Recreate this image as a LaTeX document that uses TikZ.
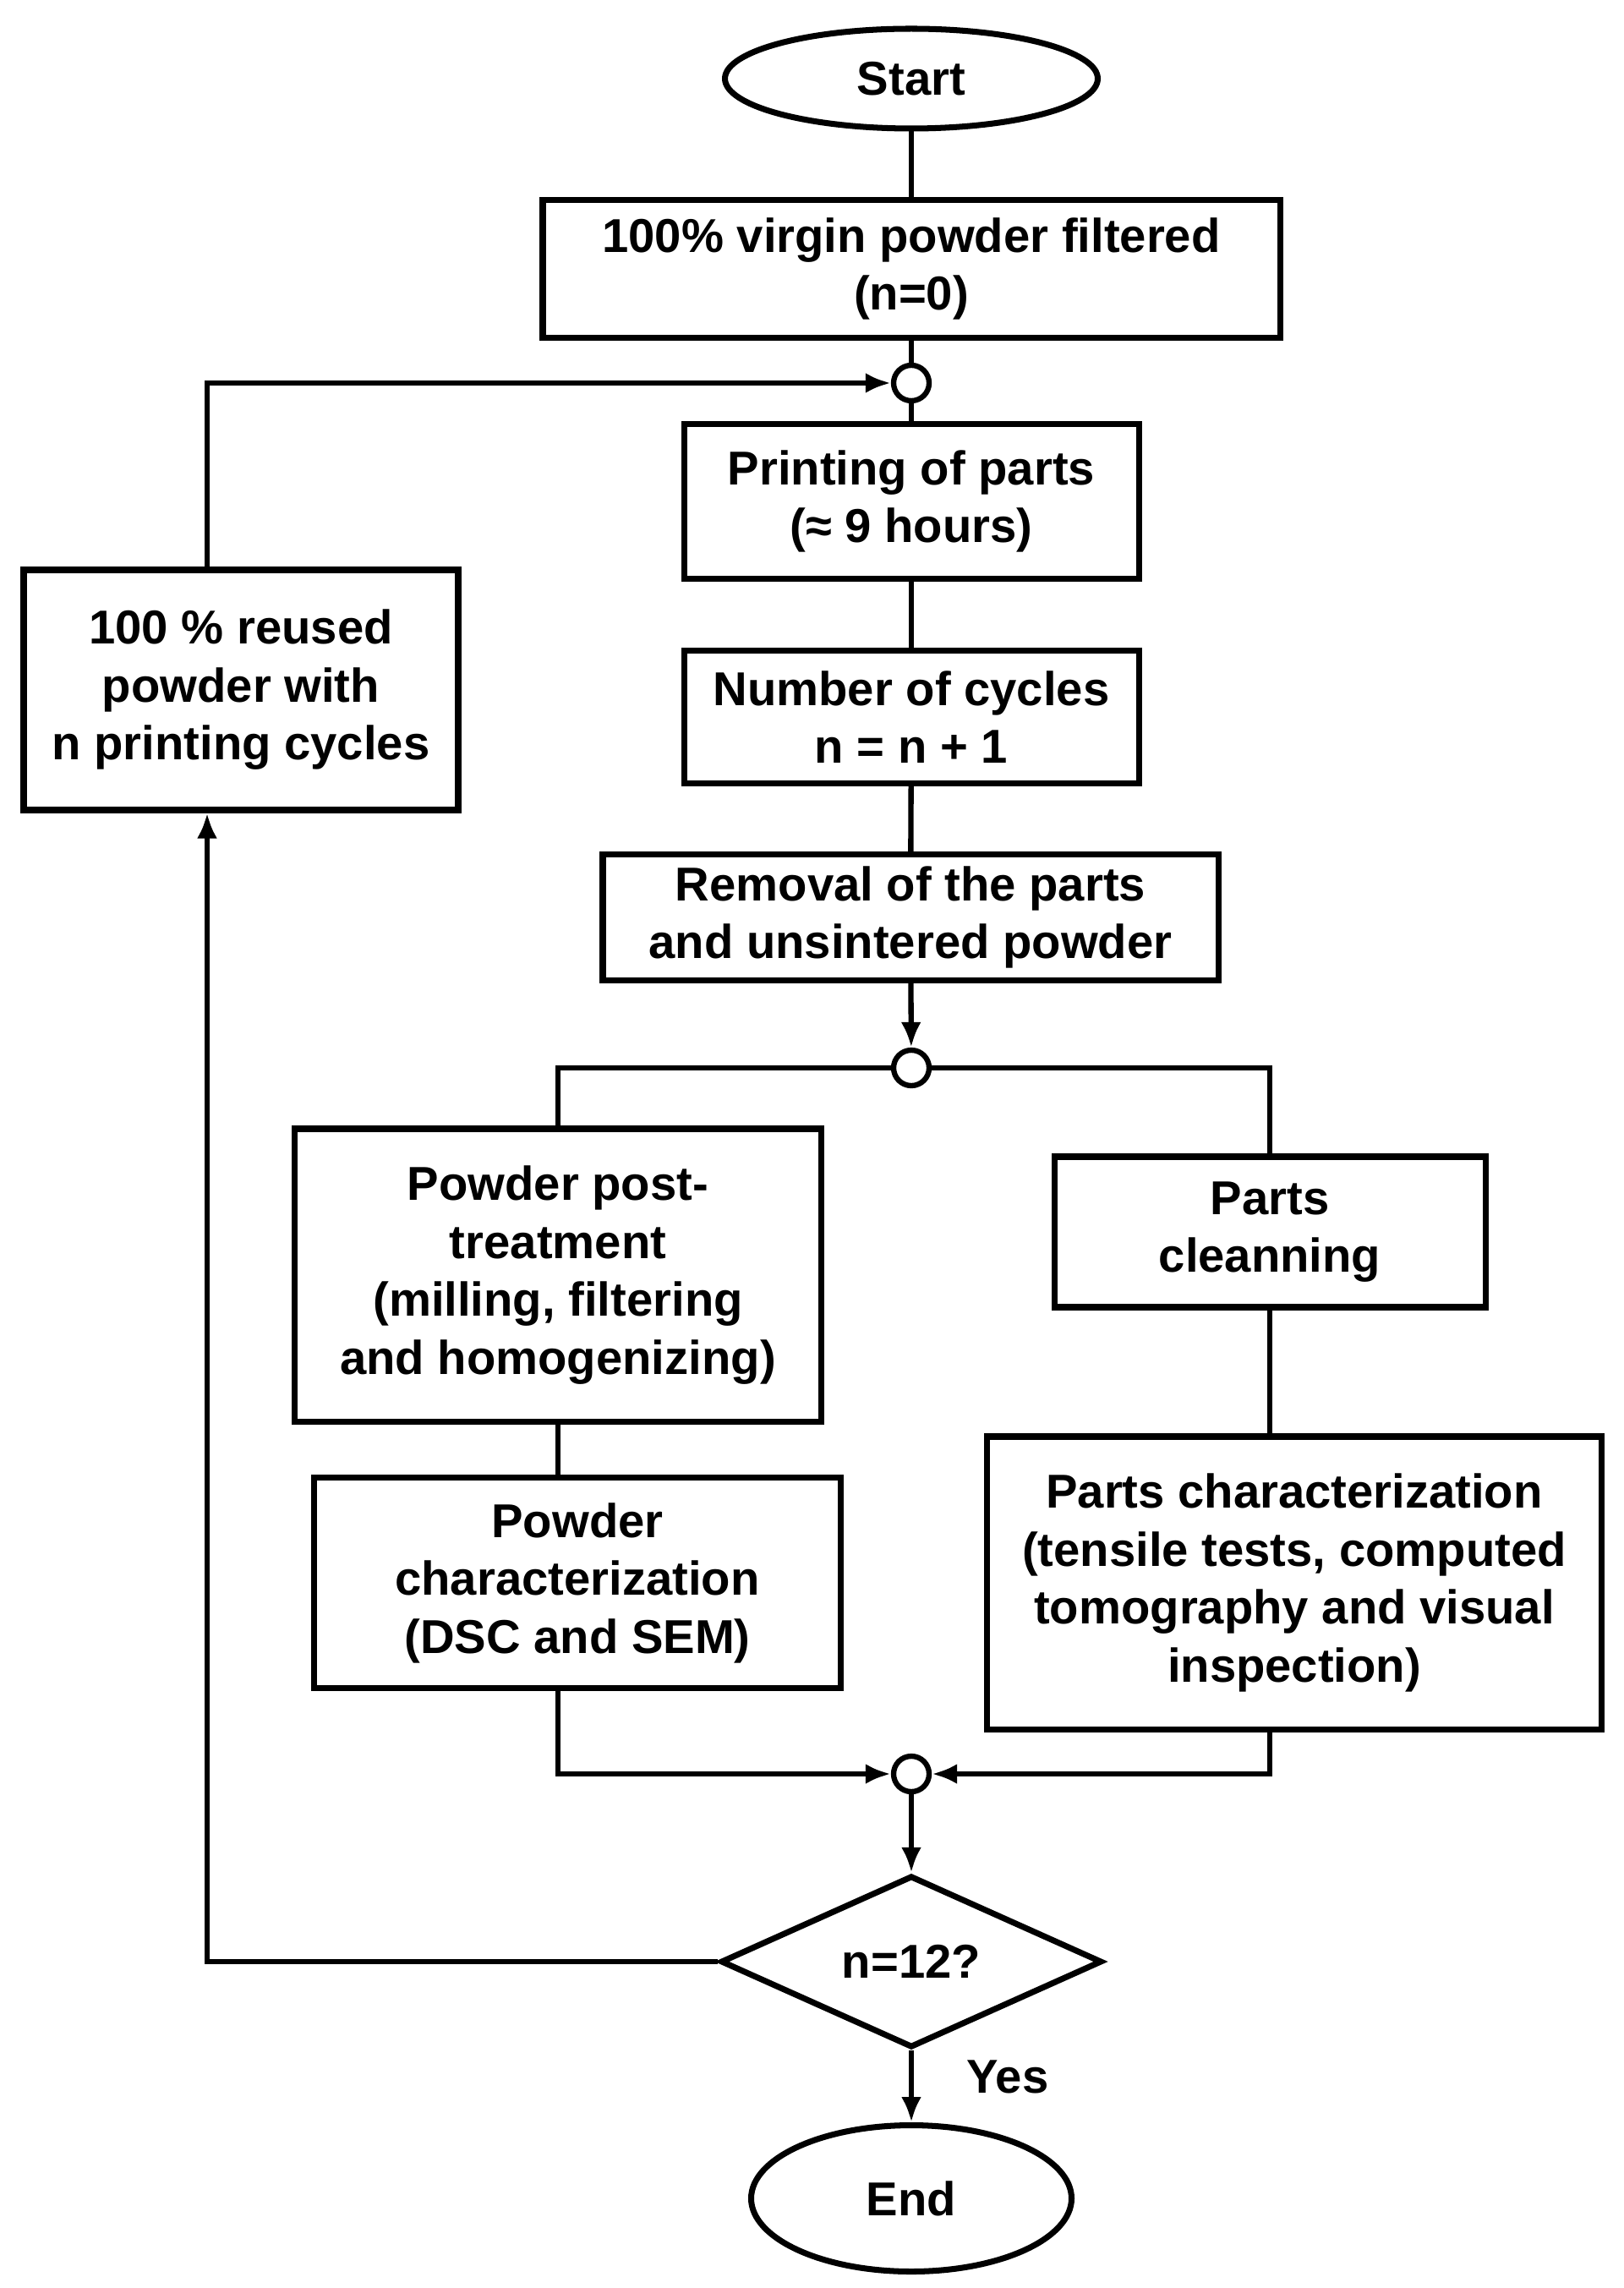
\documentclass[tikz,border=0pt]{standalone}
\usepackage{fontspec}
\setmainfont{Liberation Sans}
\usetikzlibrary{shapes.geometric, arrows.meta}

\begin{document}
\begin{tikzpicture}[font=\fontsize{16}{19.5}\selectfont\bfseries,
    procbox/.style={draw, line width=2pt, align=center, inner sep=0pt},
    terminal/.style={draw, ellipse, line width=2pt, inner sep=0pt},
    joint/.style={draw, circle, line width=1.8pt, minimum size=0.42cm, inner sep=0pt, fill=white},
    conn/.style={line width=1.8pt},
    arr/.style={conn, -{Latex[length=3mm, width=2.4mm]}}]
  \useasboundingbox (0,0) rectangle (19.2,-27.06);

  % main column
  \node[terminal, minimum width=4.41cm, minimum height=1.18cm] (start) at (10.78,-0.93) {Start};
  \node[procbox, minimum width=8.72cm, minimum height=1.63cm] (virgin) at (10.78,-3.18)
      {100\% virgin powder filtered\\(n=0)};
  \node[joint] (j1) at (10.78,-4.53) {};
  \node[procbox, minimum width=5.38cm, minimum height=1.83cm] (print) at (10.78,-5.93)
      {Printing of parts\\(≈ 9 hours)};
  \node[procbox, minimum width=5.38cm, minimum height=1.57cm] (cycles) at (10.78,-8.48)
      {Number of cycles\\n = n + 1};
  \node[procbox, minimum width=7.28cm, minimum height=1.49cm] (removal) at (10.77,-10.85)
      {Removal of the parts\\and unsintered powder};
  \node[joint] (j2) at (10.78,-12.63) {};

  % two branches
  \node[procbox, minimum width=6.23cm, minimum height=3.46cm] (post) at (6.6,-15.08)
      {Powder post-\\treatment\\(milling, filtering\\and homogenizing)};
  \node[procbox, minimum width=5.10cm, minimum height=1.78cm] (clean) at (15.02,-14.57)
      {Parts\\cleanning};
  \node[procbox, minimum width=6.23cm, minimum height=2.49cm] (pchar) at (6.83,-18.72)
      {Powder\\characterization\\(DSC and SEM)};
  \node[procbox, minimum width=7.27cm, minimum height=3.46cm] (partchar) at (15.31,-18.72)
      {Parts characterization\\(tensile tests, computed\\tomography and visual\\inspection)};
  \node[joint] (j3) at (10.78,-20.98) {};

  % decision and end
  \node[draw, diamond, line width=2pt, inner sep=0pt, minimum width=4.51cm, minimum height=1.85cm]
      (check) at (10.78,-23.20) {n=12?};
  \node[terminal, minimum width=3.79cm, minimum height=1.73cm] (end) at (10.78,-26.0) {End};
  \node (yes) at (11.92,-24.56) {Yes};

  % loop back
  \node[procbox, minimum width=5.14cm, minimum height=2.84cm] (reuse) at (2.85,-8.16)
      {100 \% reused\\powder with\\n printing cycles};
  \coordinate (loop) at (2.45,-8.16);

  \draw[conn] (start) -- (virgin);
  \draw[conn] (virgin) -- (j1);
  \draw[conn] (j1) -- (print);
  \draw[conn] (print) -- (cycles);
  \draw[conn] (cycles) -- (removal);
  \draw[arr] (removal) -- (j2);
  \draw[conn] (j2) -| (post);
  \draw[conn] (j2) -| (clean);
  \draw[conn] (post) -- (post |- pchar.north);
  \draw[conn] (clean) -- (clean |- partchar.north);
  \draw[arr] (pchar.south -| post) |- (j3);
  \draw[arr] (partchar.south -| clean) |- (j3);
  \draw[arr] (j3) -- (check);
  \draw[arr] (check) -- (end);
  \draw[arr] (reuse.north -| loop) |- (j1);
  \draw[arr] (check) -| (reuse.south -| loop);
\end{tikzpicture}
\end{document}
